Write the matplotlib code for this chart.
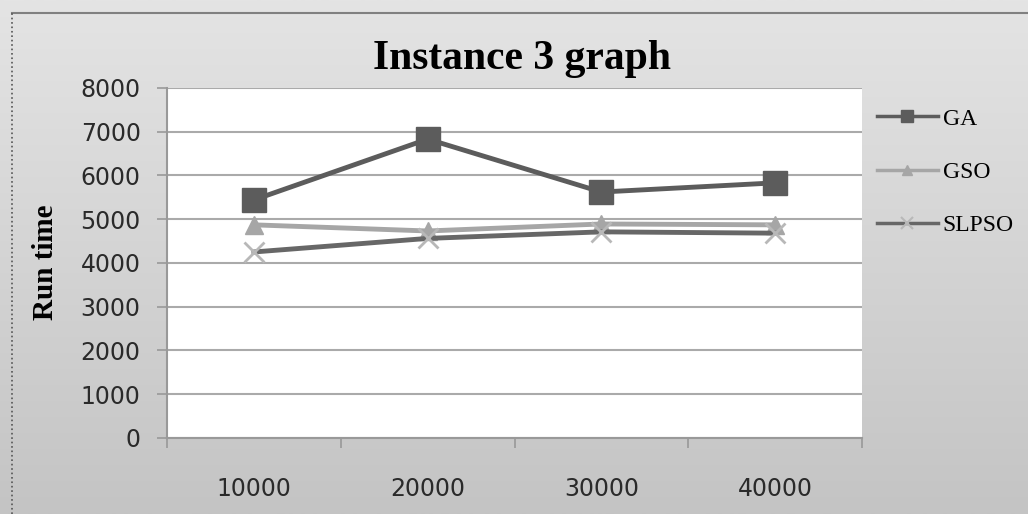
import numpy as np
import matplotlib.pyplot as plt
from matplotlib.lines import Line2D
from matplotlib.colors import LinearSegmentedColormap

categories = ['10000', '20000', '30000', '40000']
ga = [5440, 6830, 5620, 5830]
gso = [4870, 4730, 4890, 4870]
slpso = [4250, 4560, 4710, 4680]
yticks = [0, 1000, 2000, 3000, 4000, 5000, 6000, 7000, 8000]

fig = plt.figure(figsize=(10.28, 5.14), dpi=100)

# fond gris en dégradé
bg = fig.add_axes((0, 0, 1, 1), zorder=-10)
cmap_bg = LinearSegmentedColormap.from_list('bg', ['#e4e4e4', '#c4c4c4'])
grad = np.linspace(0, 1, 256).reshape(-1, 1)
bg.imshow(grad, aspect='auto', cmap=cmap_bg, extent=(0, 1, 0, 1), origin='upper')
bg.plot([0.012, 1], [0.975, 0.975], color='#808080', lw=1.5)
bg.plot([0.012, 0.012], [0, 0.975], color='#555555', lw=1.2, ls=':')
bg.set_xlim(0, 1)
bg.set_ylim(0, 1)
bg.axis('off')

ax = fig.add_axes((0.1625, 0.148, 0.676, 0.681))
ax.set_facecolor('white')
x = np.arange(len(categories))

ax.plot(x, ga, color='#5c5c5c', lw=3.5, marker='s', ms=17, label='GA', zorder=3)
ax.plot(x, gso, color='#a6a6a6', lw=3.5, marker='^', ms=13, label='GSO', zorder=2)
ax.plot(x, slpso, color='#676767', lw=3.5, marker='x', ms=15, mew=2,
        mec='#b8b8b8', label='SLPSO', zorder=2)

ax.set_ylim(0, 8000)
ax.set_yticks(yticks)
ax.set_yticklabels([str(v) for v in yticks], fontsize=17, color='#2a2a2a')
ax.yaxis.grid(True, color='#aaaaaa', lw=1.5)
ax.set_axisbelow(True)

ax.set_xlim(-0.5, 3.5)
ax.set_xticks(x)
ax.set_xticklabels(categories, fontsize=17, color='#2a2a2a')
ax.set_xticks(np.arange(-0.5, 4, 1), minor=True)
ax.tick_params(axis='x', which='major', length=0, pad=28)
ax.tick_params(axis='x', which='minor', length=7, color='#999999', width=1.2)
ax.tick_params(axis='y', length=7, color='#999999', width=1.2, pad=12)

for s in ['top', 'right']:
    ax.spines[s].set_visible(False)
ax.spines['left'].set_color('#999999')
ax.spines['left'].set_linewidth(1.5)
ax.spines['bottom'].set_color('#999999')
ax.spines['bottom'].set_linewidth(1.5)

fig.text(0.508, 0.885, 'Instance 3 graph', ha='center', va='center',
         family='Liberation Serif', fontweight='bold', fontsize=30)
fig.text(0.044, 0.49, 'Run time', ha='center', va='center', rotation=90,
         family='Liberation Serif', fontweight='bold', fontsize=21)

handles = [
    Line2D([], [], color='#5c5c5c', lw=2.5, marker='s', ms=8),
    Line2D([], [], color='#a6a6a6', lw=2.5, marker='^', ms=7),
    Line2D([], [], color='#676767', lw=2.5, marker='x', ms=9, mec='#b8b8b8', mew=1.5),
]
fig.legend(handles, ['GA', 'GSO', 'SLPSO'], loc='center left',
           bbox_to_anchor=(0.832, 0.665), frameon=False, handlelength=2.6,
           labelspacing=1.35, prop={'family': 'Liberation Serif', 'size': 17},
           handletextpad=0.2)

fig.savefig('out.png', dpi=100)
